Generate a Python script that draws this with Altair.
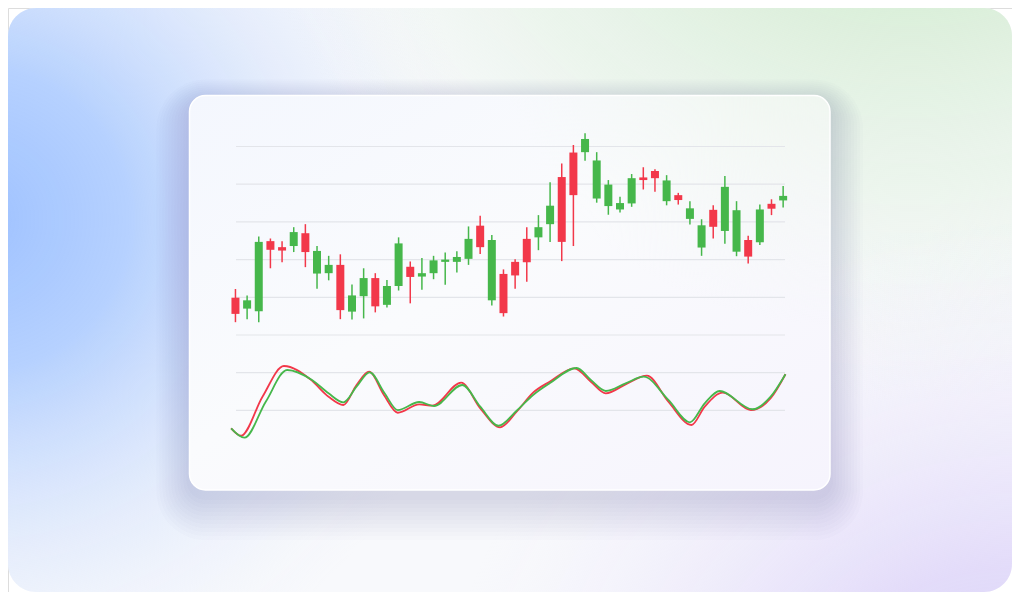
import altair as alt
import pandas as pd

# ---------------- data ----------------
open_ = [109.9, 107.0, 106.3, 124.9, 123.3, 123.6, 127.0, 116.3, 116.4, 118.6,
         106.2, 110.3, 115.1, 108.0, 113.0, 118.1, 115.5, 116.4, 119.4, 119.4,
         120.2, 129.0, 109.2, 116.2, 119.4, 125.5, 125.9, 129.4, 141.9, 148.4,
         148.5, 136.2, 134.2, 133.3, 134.9, 141.8, 143.5, 135.5, 137.1, 130.8,
         123.2, 133.2, 127.6, 122.1, 125.2, 124.6, 134.8, 135.7]
close = [105.6, 109.2, 124.7, 122.6, 122.4, 127.3, 122.0, 122.3, 118.6, 106.6,
         110.5, 115.1, 107.6, 113.0, 124.3, 115.4, 116.4, 119.8, 120.0, 120.7,
         125.5, 123.3, 125.2, 105.8, 115.8, 119.3, 128.6, 134.3, 124.7, 137.1,
         152.0, 146.3, 139.9, 135.0, 141.6, 141.1, 141.6, 141.0, 135.8, 133.6,
         129.1, 128.7, 139.3, 133.1, 120.8, 133.3, 133.5, 136.9]
high = [112.2, 110.5, 126.1, 125.6, 124.9, 128.6, 129.4, 123.6, 121.0, 121.4,
        113.4, 117.7, 116.4, 114.6, 125.9, 119.5, 120.4, 121.0, 121.9, 122.2,
        128.8, 131.6, 126.5, 117.4, 120.1, 128.6, 131.8, 140.5, 145.5, 150.4,
        153.5, 148.5, 141.1, 136.7, 142.7, 144.5, 144.0, 142.4, 137.7, 135.5,
        130.7, 134.4, 142.2, 135.5, 126.3, 134.6, 136.0, 139.5]
low = [103.4, 104.2, 103.4, 117.7, 119.3, 122.0, 118.0, 112.3, 114.5, 104.2,
       104.1, 104.4, 106.0, 107.3, 111.8, 108.4, 112.0, 114.8, 113.3, 116.6,
       118.6, 121.5, 107.8, 104.9, 112.3, 114.1, 122.5, 124.7, 119.6, 123.6,
       146.2, 135.1, 131.9, 132.5, 134.0, 138.6, 138.0, 134.4, 134.6, 129.3,
       121.0, 125.6, 124.2, 120.9, 119.0, 123.9, 131.8, 133.8]

grid_levels = [80, 90, 100, 110, 120, 130, 140, 150]

# oscillator (two smoothed lines), x in candle-index units
fast_x = [-0.37, 0.48, 2.32, 4.16, 6.42, 7.99, 9.26, 10.39, 11.47, 12.74, 13.93,
          15.77, 16.91, 19.37, 21.01, 22.71, 24.13, 25.54, 26.96, 29.08, 30.50,
          31.78, 33.48, 35.31, 37.15, 39.13, 40.27, 41.82, 44.23, 45.93, 47.20]
fast_v = [-8.5, -20.3, 41.8, 90.7, 69.5, 41.8, 28.6, 60.4, 81.6, 44.5, 16.3,
          29.7, 27.5, 64.1, 23.3, -6.9, 17.9, 48.2, 65.7, 87.0, 65.7,
          47.2, 61.5, 75.2, 33.8, -3.2, 25.9, 48.2, 20.6, 39.3, 77.5]
slow_x = [-0.37, 0.77, 2.60, 4.44, 6.57, 7.99, 9.26, 10.39, 11.52, 12.80, 13.93,
          15.77, 17.04, 19.46, 21.01, 22.57, 24.13, 25.54, 26.96, 29.28, 30.50,
          31.78, 33.48, 35.03, 37.15, 39.00, 40.27, 41.55, 44.37, 45.93, 47.20]
slow_v = [-8.5, -23.4, 33.8, 84.3, 68.4, 47.2, 32.9, 57.7, 80.6, 47.2, 20.6,
          33.4, 27.0, 60.4, 25.9, -4.4, 19.5, 44.5, 63.1, 87.5, 68.4,
          50.9, 63.1, 73.6, 36.6, 1.1, 31.3, 50.9, 21.8, 41.8, 77.5]

GREEN = "#46b74b"
RED = "#f2384a"

W, H = 1004, 584

candles = pd.DataFrame({"i": list(range(len(open_))), "open": open_, "close": close,
                        "high": high, "low": low})
grid = pd.DataFrame({"level": grid_levels})
osc = pd.concat([
    pd.DataFrame({"x": fast_x, "v": fast_v, "series": "fast"}),
    pd.DataFrame({"x": slow_x, "v": slow_v, "series": "slow"}),
])
one = pd.DataFrame({"a": [0]})

xs = alt.Scale(domain=[-19.09, 66.21], nice=False, zero=False)
price_scale = alt.Scale(domain=[31.83, 186.74], nice=False, zero=False)
osc_scale = alt.Scale(domain=[-269.0, 660.4], nice=False, zero=False)


def stops(pairs):
    return [alt.GradientStop(color=c, offset=o) for o, c in pairs]


def box(x0, y0, x1, y1, **mark):
    return alt.Chart(one).mark_rect(**mark).encode(
        x=alt.value(x0), x2=alt.value(x1), y=alt.value(y0), y2=alt.value(y1))


def radial(cx, cy, r, pairs):
    return alt.RadialGradient(gradient="radial", x1=cx, y1=cy, r1=0, x2=cx, y2=cy, r2=r,
                              stops=stops(pairs))


layers = []
# ---- outer frame background ----
layers.append(box(0, 0, W, H, cornerRadius=28, fill="#f8f9fc"))
layers.append(box(0, 0, W, H, cornerRadius=28, fill=radial(
    -0.03, 0.42, 0.5,
    [(0, "rgba(158,193,255,1)"), (0.3, "rgba(170,202,255,0.85)"),
     (0.65, "rgba(200,218,252,0.4)"), (1, "rgba(230,236,250,0)")])))
layers.append(box(0, 0, W, H, cornerRadius=28, fill=radial(
    0.9, -0.1, 0.7,
    [(0, "rgba(196,230,194,1)"), (0.35, "rgba(208,235,206,0.9)"),
     (0.7, "rgba(222,240,220,0.45)"), (1, "rgba(235,243,235,0)")])))
layers.append(box(0, 0, W, H, cornerRadius=28, fill=radial(
    1.0, 1.0, 0.58,
    [(0, "rgba(212,200,250,1)"), (0.4, "rgba(220,210,249,0.75)"),
     (0.75, "rgba(232,226,250,0.3)"), (1, "rgba(240,236,250,0)")])))

# ---- card shadow ----
cx0, cy0, cx1, cy1 = 181.5, 87.5, 822, 482
for k in range(1, 12):
    e = 3 * k
    dy = 6 + k
    layers.append(box(cx0 - e, cy0 - e + dy, cx1 + e, cy1 + e + dy,
                      cornerRadius=16 + e, fill="#4a4880", opacity=0.014))

# ---- card ----
layers.append(box(cx0, cy0, cx1, cy1, cornerRadius=16, fill=alt.LinearGradient(
    gradient="linear", x1=0, y1=0, x2=1, y2=1,
    stops=stops([(0, "#f4f7fe"), (0.45, "#fafbfd"), (1, "#f6f4fd")]))))
layers.append(box(cx0, cy0, cx1, cy1, cornerRadius=16, stroke="#ffffff", strokeWidth=1.5,
                  fill=radial(1, 0, 0.55,
                              [(0, "rgba(228,242,225,0.85)"), (1, "rgba(240,246,240,0)")])))

# ---- grid lines ----
layers.append(alt.Chart(grid).mark_rule(color="#e3e5ea", strokeWidth=1.2).encode(
    y=alt.Y("level:Q", scale=price_scale, axis=None),
    x=alt.value(228), x2=alt.value(777)))

# ---- candles ----
col = alt.condition("datum.close >= datum.open", alt.value(GREEN), alt.value(RED))
layers.append(alt.Chart(candles).mark_rule(strokeWidth=1.5).encode(
    x=alt.X("i:Q", scale=xs, axis=None),
    y=alt.Y("low:Q", scale=price_scale, axis=None), y2="high:Q", color=col))
layers.append(alt.Chart(candles).mark_bar(size=8).encode(
    x=alt.X("i:Q", scale=xs, axis=None),
    y=alt.Y("open:Q", scale=price_scale, axis=None), y2="close:Q", color=col))

# ---- oscillator ----
layers.append(alt.Chart(osc).mark_line(interpolate="monotone", strokeWidth=1.8).encode(
    x=alt.X("x:Q", scale=xs, axis=None),
    y=alt.Y("v:Q", scale=osc_scale, axis=None),
    color=alt.Color("series:N", scale=alt.Scale(domain=["fast", "slow"], range=[RED, GREEN]),
                    legend=None),
    order=alt.Order("x:Q")))

chart = alt.layer(*layers).resolve_scale(y="independent").properties(
    width=W, height=H, padding=0, autosize=alt.AutoSizeParams(type="none")
).configure_view(stroke=None).configure(background="#ffffff")

chart.save("out.html", embed_options={"renderer": "svg", "actions": False})
